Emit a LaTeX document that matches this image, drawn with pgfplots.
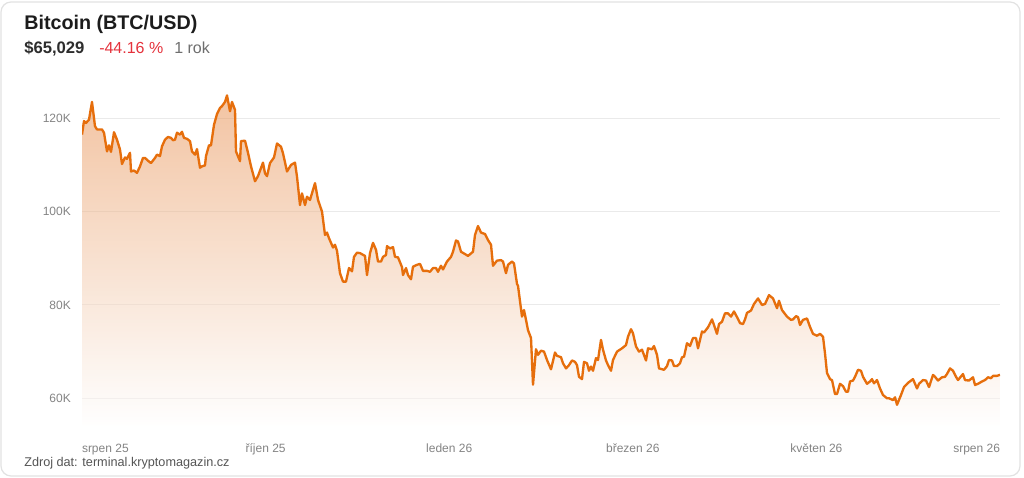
\documentclass[border=0pt]{standalone}
\usepackage{pgfplots}
\usepackage{pgfplotstable}
\pgfplotsset{compat=1.18}
\usepackage{fontspec}
\setmainfont{Liberation Sans}

\definecolor{btcline}{RGB}{230,110,12}
\definecolor{btcfill}{RGB}{231,142,78}
\definecolor{gridgray}{RGB}{234,234,234}
\definecolor{ticktext}{RGB}{132,132,132}
\definecolor{titletext}{RGB}{28,28,28}
\definecolor{pricetext}{RGB}{45,45,45}
\definecolor{lossred}{RGB}{229,50,60}
\definecolor{subgray}{RGB}{110,110,110}
\definecolor{srctext}{RGB}{85,85,85}
\definecolor{cardborder}{RGB}{226,226,226}

% t = position along the year (0..918), v = price in thousands USD
\pgfplotstableread{
t v
0 116.5
2 119.4
4 119.0
7 119.7
10 123.5
13 118.3
15 117.6
20 117.6
22 116.9
25 112.9
27 114.2
29 112.8
32 117.0
35 115.4
38 113.3
40 110.2
43 111.6
45 111.3
48 112.6
49 108.6
52 108.8
55 108.3
58 109.7
61 111.5
63 111.5
66 110.9
69 110.4
73 111.5
75 112.2
78 111.9
80 114.0
83 115.4
86 116.0
89 115.8
91 115.3
93 115.4
95 116.9
98 116.5
100 117.1
102 115.8
105 115.6
108 115.1
110 112.9
113 112.2
115 113.4
118 109.4
120 109.7
123 109.9
124 111.9
127 114.2
129 114.2
132 118.6
135 120.9
138 122.2
140 122.6
143 123.5
145 124.9
148 121.5
150 123.5
153 121.8
154 112.9
158 110.8
159 115.1
163 115.2
166 112.6
169 109.7
173 106.5
176 107.6
181 110.5
183 108.2
185 107.6
188 110.4
192 111.6
195 114.6
199 113.9
201 112.5
205 108.6
209 110.0
213 110.5
215 107.5
218 101.4
220 103.9
223 101.4
225 103.2
228 102.5
233 106.1
236 102.5
240 100.0
243 95.0
245 95.5
247 94.3
251 92.3
253 92.9
255 91.6
258 86.8
261 85.0
264 85.0
267 87.9
270 87.2
272 90.3
275 91.2
278 91.1
283 90.5
285 86.4
288 91.1
291 93.3
294 91.8
296 89.3
299 89.3
301 90.3
304 90.7
305 92.6
308 92.1
311 92.4
313 90.3
316 90.2
320 88.1
321 86.4
324 87.9
326 86.4
329 85.5
331 88.2
335 88.6
338 88.8
341 87.3
345 87.3
348 87.1
351 87.9
354 87.9
356 87.1
359 88.4
361 87.6
365 89.3
369 90.3
371 91.4
374 93.8
376 93.6
379 91.4
383 90.9
386 90.5
391 91.4
393 95.0
396 96.9
399 95.5
403 95.2
406 93.9
409 92.9
411 88.4
415 89.5
419 89.6
421 89.3
424 86.8
426 88.6
430 89.3
432 88.9
435 84.5
436 84.1
440 77.5
442 78.9
444 76.8
446 74.6
449 72.9
451 62.9
454 70.5
456 69.3
459 70.2
462 70.0
465 68.2
469 66.2
473 69.8
475 69.1
479 68.8
481 67.5
484 66.4
487 67.1
490 68.1
493 67.8
495 67.1
497 64.6
500 64.1
502 67.8
505 67.5
507 65.9
509 66.8
511 65.9
514 68.6
516 68.2
519 72.5
521 70.4
524 68.1
526 67.1
529 65.9
531 68.2
535 70.0
540 70.7
544 71.4
546 73.2
549 74.8
551 73.9
554 71.1
557 70.0
560 70.4
564 68.1
566 70.7
570 70.5
572 71.2
575 69.3
577 66.4
582 66.1
585 66.9
587 68.2
590 68.1
592 66.9
595 66.9
598 67.5
600 68.8
602 68.9
605 71.8
608 71.2
611 72.9
614 72.9
616 70.7
620 74.3
622 74.1
626 75.2
630 76.9
632 75.7
635 73.8
637 75.9
640 76.4
643 78.2
646 78.2
649 77.5
652 78.6
655 77.4
658 76.1
661 75.9
663 76.9
665 78.3
669 78.8
672 80.2
676 81.4
680 80.0
683 80.2
687 82.1
691 81.4
695 79.3
697 80.9
700 78.9
705 77.5
709 76.8
711 76.9
714 77.6
716 77.4
718 75.7
721 76.8
725 77.1
728 75.3
731 73.8
735 73.4
738 73.8
741 73.2
743 69.6
745 65.4
748 64.1
750 63.9
753 60.9
755 60.9
758 63.1
761 62.6
764 61.4
766 61.4
768 63.6
771 63.8
773 64.6
776 66.1
779 65.9
781 64.6
785 63.1
788 63.6
790 64.1
792 63.2
795 63.9
798 62.1
801 60.7
805 60.0
807 60.0
811 59.6
813 60.2
815 58.6
819 60.7
822 62.4
826 63.3
831 64.1
835 62.1
837 63.1
841 63.9
844 63.8
847 62.4
851 65.0
853 64.6
856 63.8
860 64.5
863 64.6
865 65.2
868 66.4
871 65.9
874 64.6
876 63.9
881 65.2
883 63.9
887 63.8
891 64.5
893 62.85
896 63.1
900 63.6
903 63.9
906 64.5
909 64.3
911 64.8
915 64.8
918 65.03
}\btc

\begin{document}
\begin{tikzpicture}
\begin{scope}[x=0.75pt,y=0.75pt]
\path[use as bounding box] (0,0) rectangle (1024,478);
\draw[cardborder, line width=0.9pt, rounded corners=7.5pt, fill=white] (1,2) rectangle (1020,476);
\end{scope}

\begin{axis}[
  at={(61.5pt,38.8pt)}, anchor=south west,
  scale only axis,
  width=688.5pt, height=259pt,
  xmin=0, xmax=918, ymin=54, ymax=128,
  axis line style={draw=none},
  major tick length=0pt,
  ymajorgrids,
  grid style={gridgray, line width=0.8pt},
  ytick={60,80,100,120},
  yticklabels={60K,80K,100K,120K},
  yticklabel style={anchor=east, inner sep=0pt, xshift=-8.2pt, font=\fontsize{9}{10}\selectfont, text=ticktext},
  xtick={0,183.6,367.2,550.8,734.4,918},
  xticklabels={\rlap{srpen 25},{říjen 25},{leden 26},{březen 26},{květen 26},\llap{srpen 26}},
  xticklabel style={anchor=base, inner sep=0pt, yshift=-20pt, font=\fontsize{9}{10}\selectfont, text=ticktext},
]
% gradient area under the price line, closed down to the bottom of the axis
\addplot[draw=none, top color=btcfill, bottom color=white, fill opacity=0.52]
  table[x=t, y=v] {\btc} -- (axis cs:918,54) -- (axis cs:0,54) -- cycle;
\addplot[btcline, line width=1.75pt, line join=round] table[x=t, y=v] {\btc};
\end{axis}

\begin{scope}[x=0.75pt,y=0.75pt]
\node[anchor=base west, inner sep=0pt, text=titletext, font=\fontsize{14.8}{16}\selectfont\bfseries] at (24,448) {Bitcoin (BTC/USD)};
\node[anchor=base west, inner sep=0pt, text=pricetext, font=\fontsize{12.5}{14}\selectfont\bfseries] at (24,424) {\$65,029};
\node[anchor=base west, inner sep=0pt, text=lossred, font=\fontsize{12}{14}\selectfont] at (99,424) {-44.16 \%};
\node[anchor=base west, inner sep=0pt, text=subgray, font=\fontsize{12}{14}\selectfont] at (174,424) {1 rok};
\node[anchor=base west, inner sep=0pt, text=srctext, font=\fontsize{9.5}{10}\selectfont] at (24,12) {Zdroj dat: terminal.kryptomagazin.cz};
\end{scope}
\end{tikzpicture}
\end{document}
